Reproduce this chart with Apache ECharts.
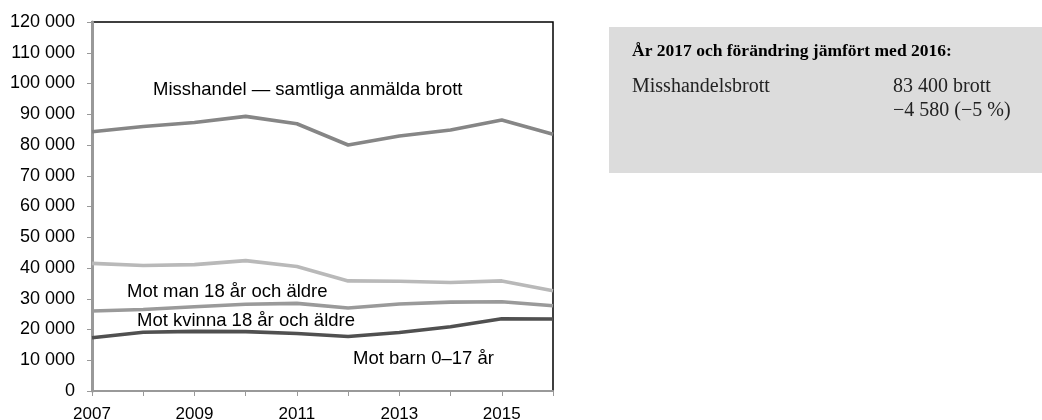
<!DOCTYPE html>
<html>
<head>
<meta charset="utf-8">
<script src="https://cdn.jsdelivr.net/npm/echarts@6/dist/echarts.min.js"></script>
<style>
html, body { margin: 0; padding: 0; background: #fff; }
#main { width: 1042px; height: 420px; }
</style>
</head>
<body>
<div id="main"></div>
<script>
var years = ['2007', '2008', '2009', '2010', '2011', '2012', '2013', '2014', '2015', '2016'];
var samtliga = [84300, 86000, 87300, 89300, 86900, 80000, 82900, 84900, 88100, 83500];
var motMan = [41500, 40800, 41100, 42400, 40500, 35800, 35700, 35300, 35800, 32600];
var motKvinna = [26000, 26500, 27400, 28200, 28500, 27000, 28300, 28900, 29000, 27700];
var motBarn = [17300, 19100, 19400, 19300, 18700, 17700, 19000, 20900, 23500, 23400];

function fmt(v) {
	return String(v).replace(/\B(?=(\d{3})+(?!\d))/g, ' ');
}

function line(name, data, color) {
	return {
		name: name,
		type: 'line',
		data: data,
		symbol: 'none',
		lineStyle: {color: color, width: 3.6},
		itemStyle: {color: color}
	};
}

var myChart = echarts.init(document.getElementById('main'));
var sans = 'Liberation Sans, Arial, sans-serif';
var serif = 'Liberation Serif, Times New Roman, serif';
var option = {
	animation: false,
	grid: {
		left: 92, right: 489, top: 22, bottom: 29,
		outerBoundsMode: 'none', containLabel: false,
		show: true, borderColor: '#000', borderWidth: 1.5
	},
	xAxis: {
		type: 'category',
		data: years,
		boundaryGap: false,
		axisLine: {lineStyle: {color: '#999', width: 2}},
		axisTick: {show: true, interval: 0, length: 5, lineStyle: {color: '#999'}},
		axisLabel: {
			interval: 1, color: '#000', fontSize: 17, fontFamily: sans, margin: 15
		},
		splitLine: {show: false}
	},
	yAxis: {
		type: 'value',
		min: 0, max: 120000, interval: 10000,
		axisLine: {show: true, lineStyle: {color: '#999', width: 3}},
		axisTick: {show: true, length: 5, lineStyle: {color: '#999'}},
		axisLabel: {
			color: '#000', fontSize: 18, fontFamily: sans, margin: 17,
			formatter: fmt
		},
		splitLine: {show: false}
	},
	series: [
		line('Misshandel — samtliga anmälda brott', samtliga, '#868686'),
		line('Mot man 18 år och äldre', motMan, '#b9b9b9'),
		line('Mot kvinna 18 år och äldre', motKvinna, '#9a9a9a'),
		line('Mot barn 0–17 år', motBarn, '#505050')
	],
	graphic: [
		{type: 'text', left: 153, top: 80, style: {text: 'Misshandel — samtliga anmälda brott', font: '18.5px ' + sans, fill: '#000'}},
		{type: 'text', left: 127, top: 282, style: {text: 'Mot man 18 år och äldre', font: '18.5px ' + sans, fill: '#000'}},
		{type: 'text', left: 137, top: 311, style: {text: 'Mot kvinna 18 år och äldre', font: '18.5px ' + sans, fill: '#000'}},
		{type: 'text', left: 353, top: 349, style: {text: 'Mot barn 0–17 år', font: '18.5px ' + sans, fill: '#000'}},
		{type: 'rect', left: 609, top: 27, shape: {width: 433, height: 146}, style: {fill: '#dcdcdc'}},
		{type: 'text', left: 632, top: 42, style: {text: 'År 2017 och förändring jämfört med 2016:', font: 'bold 17.5px ' + serif, fill: '#000'}},
		{type: 'text', left: 632, top: 77, style: {text: 'Misshandelsbrott', font: '20px ' + serif, fill: '#222'}},
		{type: 'text', left: 893, top: 77, style: {text: '83 400 brott', font: '20px ' + serif, fill: '#222'}},
		{type: 'text', left: 893, top: 101, style: {text: '−4 580 (−5 %)', font: '20px ' + serif, fill: '#222'}}
	]
};
myChart.setOption(option);
</script>
</body>
</html>
